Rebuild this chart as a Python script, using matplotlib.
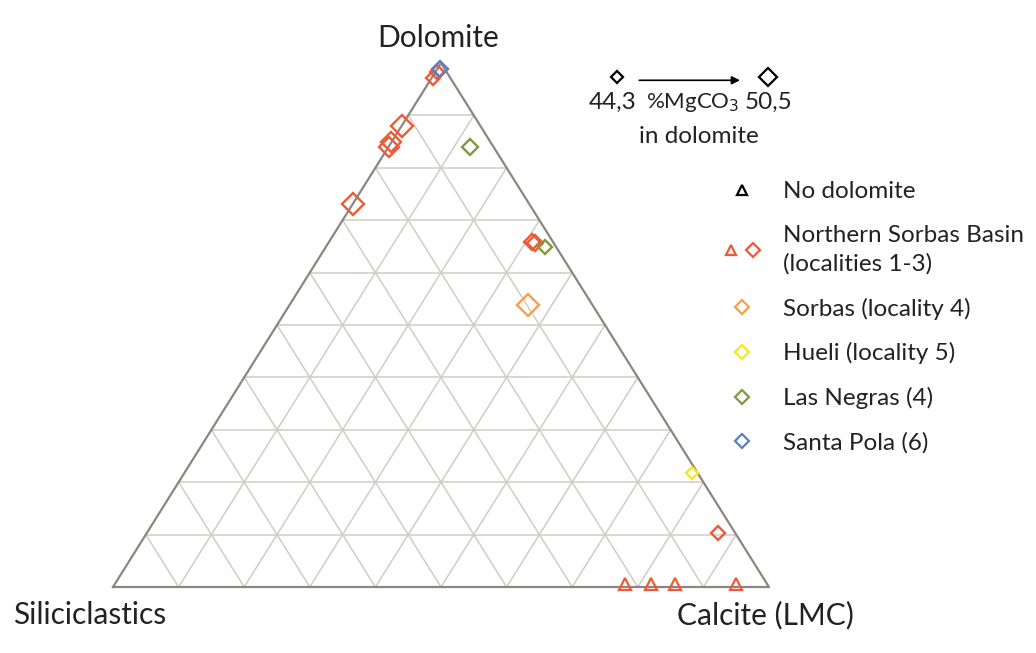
import matplotlib.pyplot as plt
from matplotlib.lines import Line2D
from matplotlib.legend_handler import HandlerTuple

plt.rcParams['font.family'] = ['Lato', 'DejaVu Sans']

# ternary compositions (fractions): dolomite, calcite, siliciclastics = rest
# diamonds: dolomite-bearing samples, size from %MgCO3 in dolomite
colors = {"nsb": "#ee5a38", "sorbas": "#f5a04a", "hueli": "#f8e71c",
          "negras": "#7d9a3e", "pola": "#5b7fc0"}

dia_group = ["nsb", "nsb", "nsb", "nsb", "nsb", "nsb", "negras",
             "nsb", "nsb", "negras", "sorbas", "hueli", "nsb", "pola"]
dia_dol = [0.971, 0.983, 0.880, 0.849, 0.840, 0.731, 0.840,
           0.658, 0.656, 0.649, 0.538, 0.218, 0.103, 0.988]
dia_cal = [0.002, 0.003, 0.000, 0.000, 0.000, 0.000, 0.124,
           0.310, 0.315, 0.334, 0.364, 0.774, 0.871, 0.004]
dia_mg = [47.0, 46.1, 53.2, 51.4, 51.4, 54.0, 48.7,
          48.7, 48.7, 46.1, 54.9, 44.3, 47.0, 49.6]

# triangles: no dolomite (Northern Sorbas Basin)
tri_dol = [0.0, 0.0, 0.0, 0.0]
tri_cal = [0.78, 0.82, 0.857, 0.95]


def to_xy(d, c):
    return c + d / 2.0, d


def mg_size(mg):
    px = 13 + (mg - 44.3) * 7.0 / 6.2
    return (px - 2) / 1.964


fig = plt.figure(figsize=(10.36, 6.53), dpi=100)
ax = fig.add_axes([0, 0, 1, 1])
ax.set_xlim(-113 / 656, (1036 - 113) / 656)
ax.set_ylim((587 - 653) / 524, 587 / 524)
ax.axis("off")

# grid
gc = "#d3cbc7"
for i in range(1, 10):
    t = i / 10
    # constant dolomite
    x0, y0 = to_xy(t, 0)
    x1, y1 = to_xy(t, 1 - t)
    ax.plot([x0, x1], [y0, y1], color=gc, lw=1.1, zorder=1)
    # constant calcite
    x0, y0 = to_xy(0, t)
    x1, y1 = to_xy(1 - t, t)
    ax.plot([x0, x1], [y0, y1], color=gc, lw=1.1, zorder=1)
    # constant siliciclastics
    x0, y0 = to_xy(1 - t, 0)
    x1, y1 = to_xy(0, 1 - t)
    ax.plot([x0, x1], [y0, y1], color=gc, lw=1.1, zorder=1)

# outline
ax.plot([0, 1, 0.5, 0], [0, 0, 1, 0], color="#8c8682", lw=1.6, zorder=2)

# data
for d, c in zip(tri_dol, tri_cal):
    x, y = to_xy(d, c)
    ax.plot(x, y + 0.006, marker="^", ms=8, mfc="none", mec=colors["nsb"],
            mew=1.6, zorder=3)
for g, d, c, mg in zip(dia_group, dia_dol, dia_cal, dia_mg):
    x, y = to_xy(d, c)
    ax.plot(x, y, marker="D", ms=mg_size(mg), mfc="none", mec=colors[g],
            mew=1.7, zorder=3)

# corner labels
ax.text(0.495, 1.048, "Dolomite", ha="center", va="center", fontsize=21.5,
        color="#222222")
ax.text(-0.035, -0.053, "Siliciclastics", ha="center", va="center",
        fontsize=21.5, color="#222222")
ax.text(0.995, -0.053, "Calcite (LMC)", ha="center", va="center",
        fontsize=21.5, color="#222222")

# size key
ax.plot(0.768, 0.973, marker="D", ms=mg_size(44.3), mfc="none", mec="k",
        mew=1.6)
ax.plot(0.998, 0.973, marker="D", ms=mg_size(50.5), mfc="none", mec="k",
        mew=1.6)
ax.annotate("", xy=(0.960, 0.967), xytext=(0.798, 0.967),
            arrowprops=dict(arrowstyle="-|>", color="k", lw=1.2,
                            mutation_scale=12))
ax.text(0.761, 0.924, "44,3", ha="center", va="center", fontsize=17.5,
        color="#222222")
ax.text(0.884, 0.924, "%MgCO$_3$", ha="center", va="center", fontsize=16,
        color="#222222")
ax.text(1.0, 0.924, "50,5", ha="center", va="center", fontsize=17.5,
        color="#222222")
ax.text(0.893, 0.860, "in dolomite", ha="center", va="center", fontsize=17.5,
        color="#222222")

# legend
def dia(col):
    return Line2D([], [], ls="none", marker="D", ms=6.8, mfc="none", mec=col,
                  mew=1.6)


handles = [
    Line2D([], [], ls="none", marker="^", ms=7.5, mfc="none", mec="k", mew=1.6),
    (Line2D([], [], ls="none", marker="^", ms=7.5, mfc="none",
            mec=colors["nsb"], mew=1.6), dia(colors["nsb"])),
    dia(colors["sorbas"]), dia(colors["hueli"]), dia(colors["negras"]),
    dia(colors["pola"]),
]
labels = ["No dolomite", "Northern Sorbas Basin\n(localities 1-3)",
          "Sorbas (locality 4)", "Hueli (locality 5)", "Las Negras (4)",
          "Santa Pola (6)"]
leg = ax.legend(handles, labels, loc="upper left",
                bbox_to_anchor=(722 / 1036, 1 - 181 / 653), frameon=False,
                fontsize=17.5, labelspacing=0.93, handlelength=1.65,
                handletextpad=0.86, borderpad=0, borderaxespad=0,
                handler_map={tuple: HandlerTuple(ndivide=None, pad=0.15)})
for t in leg.get_texts():
    t.set_color("#222222")
leg.get_texts()[1].set_linespacing(1.45)

fig.savefig("out.png", dpi=100)
